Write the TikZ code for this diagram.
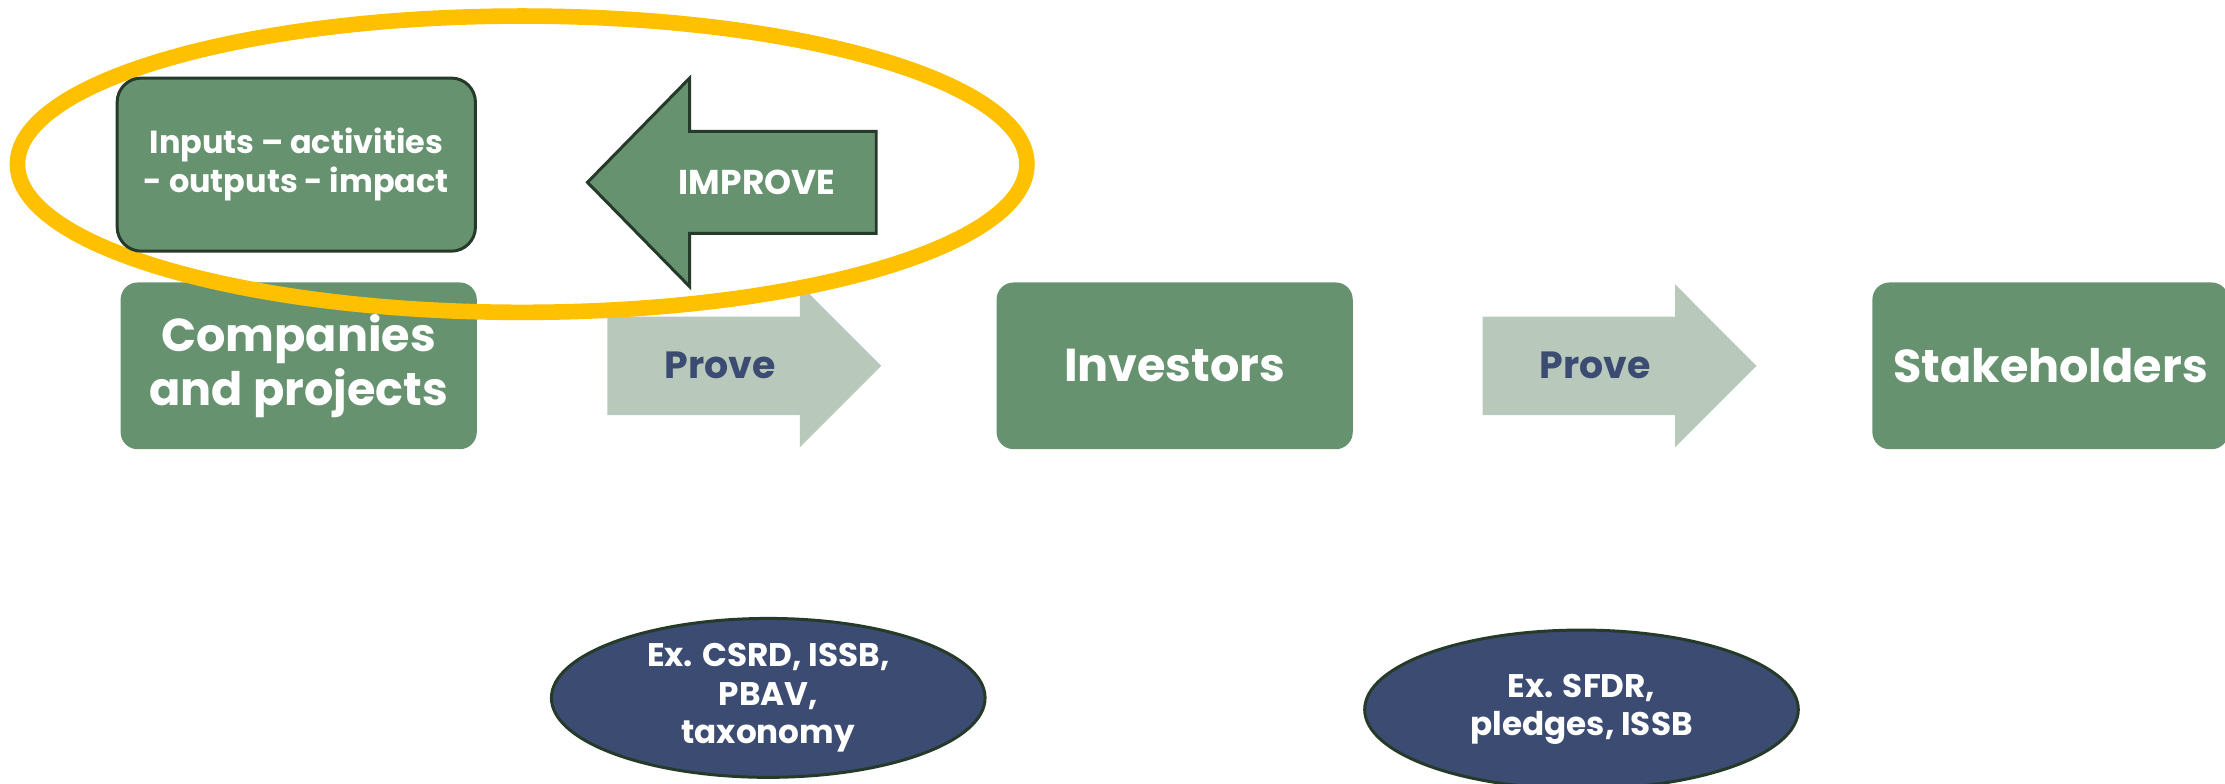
\documentclass[tikz,border=0pt]{standalone}
\usepackage{fontspec}
\setmainfont{Poppins}
\usetikzlibrary{shapes.geometric}
\definecolor{vert}{HTML}{669270}
\definecolor{vertclair}{HTML}{B8C9BC}
\definecolor{bleu}{HTML}{3B4B72}
\definecolor{jaune}{HTML}{FFC000}
\definecolor{bord}{HTML}{263A2A}
\tikzset{
  boite/.style={fill=vert,rounded corners=0.12cm,minimum width=2.51cm,minimum height=1.175cm,
    inner sep=0pt,align=center,text=white,font=\bfseries\fontsize{9.25}{9.8}\selectfont},
  ovale/.style={ellipse,draw=bord,line width=0.6pt,fill=bleu,minimum width=3.056cm,minimum height=1.12cm,
    inner sep=0pt,align=center,text=white,font=\bfseries\fontsize{6.55}{7.7}\selectfont}
}
\begin{document}
\begin{tikzpicture}
  \useasboundingbox (0,0) rectangle (15.68,5.518);
  \node[boite] (entreprises) at (2.105,2.94) {Companies\\and projects};
  \node[boite] (investisseurs) at (8.278,2.94) {Investors};
  \node[boite] (parties) at (14.45,2.94) {Stakeholders};
  \pgfmathsetmacro{\tige}{0.3475}
  \pgfmathsetmacro{\tete}{0.575}
  \foreach \x/\nom in {4.28/prouvea,10.448/prouveb}{
    \begin{scope}[shift={(\x,2.94)}]
      \fill[vertclair] (0,-\tige) -- (1.356,-\tige) -- (1.356,-\tete) -- (1.93,0) -- (1.356,\tete) -- (1.356,\tige) -- (0,\tige) -- cycle;
      \node[text=bleu,font=\bfseries\fontsize{7.6}{8}\selectfont] (\nom) at (0.795,0) {Prove};
    \end{scope}
  }
  \draw[jaune,line width=0.11cm] (3.68,4.361) ellipse [x radius=3.557,y radius=1.044];
  \begin{scope}[shift={(4.14,4.233)}]
    \filldraw[fill=vert,draw=bord,line width=0.6pt] (0,0) -- (0.72,0.735) -- (0.72,0.36) -- (2.035,0.36)
      -- (2.035,-0.36) -- (0.72,-0.36) -- (0.72,-0.735) -- cycle;
    \node[text=white,font=\bfseries\fontsize{6.9}{7}\selectfont] (ameliorer) at (1.195,0) {IMPROVE};
  \end{scope}
  \node[boite,draw=bord,line width=0.6pt,rounded corners=0.17cm,minimum width=2.525cm,minimum height=1.22cm,
    font=\bfseries\fontsize{6.4}{7.7}\selectfont] (chaine) at (2.088,4.358) {Inputs – activities\\- outputs - impact};
  \node[ovale] (exemplesa) at (5.414,0.600) {Ex. CSRD, ISSB,\\PBAV,\\taxonomy};
  \node[ovale] (exemplesb) at (11.145,0.518) {Ex. SFDR,\\pledges, ISSB};
\end{tikzpicture}
\end{document}
